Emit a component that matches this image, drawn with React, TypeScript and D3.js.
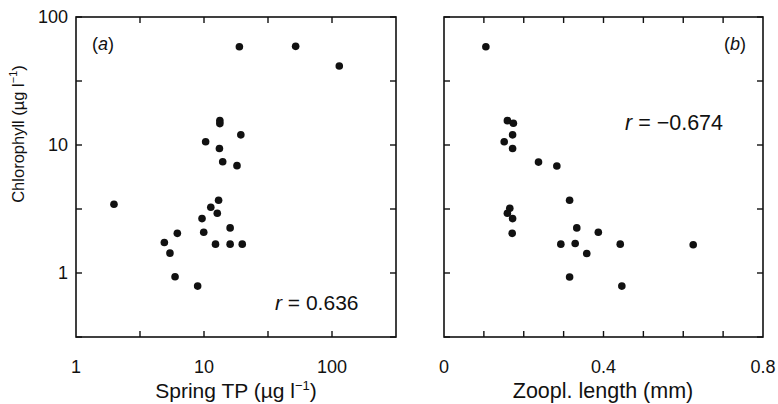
import React from "react";
import * as d3 from "d3";

// panel (a): spring TP (µg/l) vs chlorophyll (µg/l)
const tpValues = [18.9, 52, 114, 13.3, 13.3, 19.4, 10.3, 13.2, 14.0, 18.1, 1.98, 13.0, 11.3, 12.7, 9.65, 16.0, 9.95, 6.19, 4.9, 12.3, 16.0, 19.9, 5.42, 5.94, 8.92];
const chlA = [58.6, 59, 41.4, 15.5, 14.7, 12.0, 10.6, 9.4, 7.4, 6.9, 3.44, 3.7, 3.26, 2.93, 2.66, 2.25, 2.08, 2.04, 1.73, 1.68, 1.68, 1.68, 1.43, 0.935, 0.79];

// panel (b): zooplankton length (mm) vs chlorophyll
const zoopLength = [0.105, 0.159, 0.174, 0.172, 0.151, 0.172, 0.237, 0.283, 0.315, 0.165, 0.159, 0.172, 0.333, 0.387, 0.171, 0.293, 0.329, 0.442, 0.625, 0.358, 0.315, 0.446];
const chlB = [58.6, 15.5, 14.8, 12.0, 10.6, 9.4, 7.35, 6.85, 3.7, 3.2, 2.93, 2.66, 2.25, 2.08, 2.04, 1.68, 1.7, 1.68, 1.66, 1.42, 0.93, 0.79];

const yTickLabels = [1, 10, 100];
const yTicks = [0.316, 1, 3.162, 10, 31.62, 100];
const tpTickLabels = [1, 10, 100];
const tpTicks = [3.162, 10, 31.62, 100];
const zoopTickLabels = [0, 0.4, 0.8];
const zoopTicks = [0.1, 0.2, 0.3, 0.4, 0.5, 0.6, 0.7];

const font = "'Liberation Sans', Arial, sans-serif";
const top = 17;
const bottom = 337;
const tickLen = 6;

const App = () => {
  const y = d3.scaleLog().domain([0.3162, 100]).range([bottom, top]);
  const xa = d3.scaleLog().domain([1, 316.2]).range([76, 396]);
  const xb = d3.scaleLinear().domain([0, 0.8]).range([444, 763]);

  const frame = (x0: number, x1: number) => (
    <rect x={x0} y={top} width={x1 - x0} height={bottom - top} fill="none" stroke="#111" strokeWidth={1.6} />
  );

  const yTickMarks = (x0: number, x1: number) =>
    yTicks.map((t, i) => (
      <g key={"y" + i}>
        <line x1={x0} x2={x0 + tickLen} y1={y(t)} y2={y(t)} stroke="#111" strokeWidth={1.4} />
        <line x1={x1} x2={x1 - tickLen} y1={y(t)} y2={y(t)} stroke="#111" strokeWidth={1.4} />
      </g>
    ));

  const xTickMarks = (scale: (v: number) => number, ticks: number[]) =>
    ticks.map((t, i) => (
      <g key={"x" + i}>
        <line x1={scale(t)} x2={scale(t)} y1={bottom} y2={bottom - tickLen} stroke="#111" strokeWidth={1.4} />
        <line x1={scale(t)} x2={scale(t)} y1={top} y2={top + tickLen} stroke="#111" strokeWidth={1.4} />
      </g>
    ));

  return (
    <svg width={778} height={404} style={{ position: "absolute", left: 0, top: 0 }} fontFamily={font} fill="#111">
      <rect width={778} height={404} fill="#fff" />

      {/* panel a */}
      {frame(76, 396)}
      {yTickMarks(76, 396)}
      {xTickMarks(xa, tpTicks)}
      {tpValues.map((v, i) => (
        <circle key={"a" + i} cx={xa(v)} cy={y(chlA[i])} r={3.8} fill="#111" />
      ))}
      {yTickLabels.map((t) => (
        <text key={"yl" + t} x={68} y={y(t)} dy="0.36em" textAnchor="end" fontSize={18}>
          {t}
        </text>
      ))}
      {tpTickLabels.map((t) => (
        <text key={"xl" + t} x={xa(t)} y={373} textAnchor="middle" fontSize={18}>
          {t}
        </text>
      ))}
      <text x={92} y={50} fontSize={18}>
        (<tspan fontStyle="italic">a</tspan>)
      </text>
      <text x={275} y={310} fontSize={21}>
        <tspan fontStyle="italic">r</tspan> = 0.636
      </text>
      <text x={236} y={398} textAnchor="middle" fontSize={21}>
        Spring TP (µg l<tspan fontSize={13} dy={-8}>−1</tspan>
        <tspan dy={8}>)</tspan>
      </text>
      <text transform="translate(24,134) rotate(-90)" textAnchor="middle" fontSize={16.5}>
        Chlorophyll (µg l<tspan fontSize={11} dy={-7}>−1</tspan>
        <tspan dy={7}>)</tspan>
      </text>

      {/* panel b */}
      {frame(444, 763)}
      {yTickMarks(444, 763)}
      {xTickMarks(xb, zoopTicks)}
      {zoopLength.map((v, i) => (
        <circle key={"b" + i} cx={xb(v)} cy={y(chlB[i])} r={3.8} fill="#111" />
      ))}
      {zoopTickLabels.map((t) => (
        <text key={"zl" + t} x={xb(t)} y={373} textAnchor="middle" fontSize={18}>
          {t}
        </text>
      ))}
      <text x={724} y={50} fontSize={18}>
        (<tspan fontStyle="italic">b</tspan>)
      </text>
      <text x={625} y={130} fontSize={21.5}>
        <tspan fontStyle="italic">r</tspan> = −0.674
      </text>
      <text x={603} y={398} textAnchor="middle" fontSize={21.5}>
        Zoopl. length (mm)
      </text>
    </svg>
  );
};

export default App;
